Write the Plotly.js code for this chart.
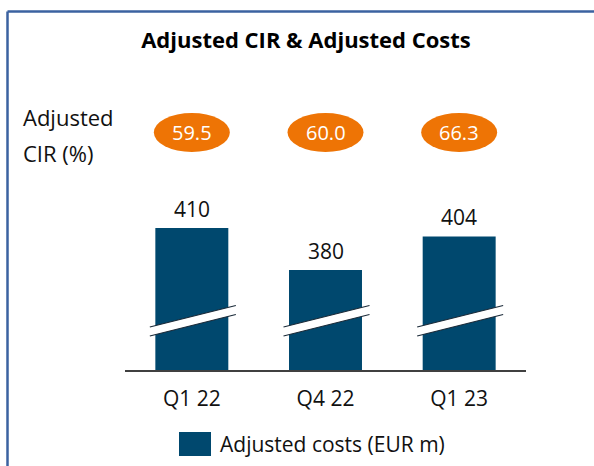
<!DOCTYPE html>
<html>
<head>
<meta charset="utf-8">
<script src="https://cdn.plot.ly/plotly-3.0.1.min.js"></script>
<style>html,body{margin:0;padding:0;background:#fff;}#chart{width:594px;height:466px;}</style>
</head>
<body>
<div id="chart"></div>
<script>
// ---- data ----
var quarters = ["Q1 22", "Q4 22", "Q1 23"];
var adjustedCosts = [410, 380, 404];
var adjustedCIR = [59.5, 60.0, 66.3];
var seriesName = "Adjusted costs (EUR m)";
var chartTitle = "Adjusted CIR & Adjusted Costs";
var cirLabelLines = ["Adjusted", "CIR (%)"];

// ---- layout helpers (pixel geometry) ----
var W = 594, H = 466;
var mL = 125, mR = 68, mT = 200, mB = 96;
var plotW = W - mL - mR, plotH = H - mT - mB;
function px(xp) { return (xp - mL) / plotW; }          // pixel x -> paper x
function py(yp) { return (H - mB - yp) / plotH; }      // pixel y -> paper y
var n = quarters.length;
function catCenter(i) { return (i + 0.5) / n; }        // category centre in paper x

var barColor = "#00486E";
var orange = "#EE7405";
var font = "'Open Sans', 'Noto Sans', sans-serif";

var shapes = [];
var annotations = [];

// frame (left and top border)
shapes.push({type: "line", xref: "paper", yref: "paper", x0: px(7.5), x1: px(7.5), y0: py(11.5), y1: py(H + 2), line: {color: "#3b62a0", width: 2.5}});
shapes.push({type: "line", xref: "paper", yref: "paper", x0: px(7.5), x1: px(W + 2), y0: py(11.5), y1: py(11.5), line: {color: "#3b62a0", width: 2.5}});

// CIR bubbles + bar value labels + axis break marks
quarters.forEach(function (q, i) {
  var c = catCenter(i);
  shapes.push({type: "circle", xref: "paper", yref: "paper",
    x0: c - 38 / plotW, x1: c + 38 / plotW, y0: py(152), y1: py(113),
    fillcolor: orange, line: {width: 0}, layer: "above"});
  annotations.push({xref: "paper", yref: "paper", x: c, y: py(132.5), text: adjustedCIR[i].toFixed(1),
    showarrow: false, xanchor: "center", yanchor: "middle", font: {family: font, size: 20, color: "#ffffff"}});
  annotations.push({xref: "x", yref: "y", x: q, y: adjustedCosts[i], text: String(adjustedCosts[i]),
    showarrow: false, xanchor: "center", yanchor: "bottom", yshift: 3, font: {family: font, size: 21, color: "#111111"}});
  // break mark: white band with dark edges
  var xl = c - 42 / plotW, xr = c + 44 / plotW;
  var tl = py(327), tr = py(305.5), bl = py(336), br = py(314.5);
  shapes.push({type: "path", xref: "paper", yref: "paper",
    path: "M" + xl + "," + tl + " L" + xr + "," + tr + " L" + xr + "," + br + " L" + xl + "," + bl + " Z",
    fillcolor: "#ffffff", line: {width: 0}, layer: "above"});
  shapes.push({type: "line", xref: "paper", yref: "paper", x0: xl, y0: tl, x1: xr, y1: tr, line: {color: "#1a2a38", width: 1.2}, layer: "above"});
  shapes.push({type: "line", xref: "paper", yref: "paper", x0: xl, y0: bl, x1: xr, y1: br, line: {color: "#1a2a38", width: 1.2}, layer: "above"});
});

// left CIR label (two lines, wider line spacing)
cirLabelLines.forEach(function (t, k) {
  annotations.push({xref: "paper", yref: "paper", x: px(21), y: py(117 + 36 * k), text: t, showarrow: false,
    xanchor: "left", yanchor: "middle", align: "left", font: {family: font, size: 22, color: "#111111"}});
});

// legend swatch (larger than Plotly's default symbol)
shapes.push({type: "rect", xref: "paper", yref: "paper", x0: px(179), x1: px(211), y0: py(456), y1: py(432),
  fillcolor: barColor, line: {width: 0}, layer: "above"});

var data = [{
  type: "bar",
  x: quarters,
  y: adjustedCosts,
  name: seriesName,
  marker: {color: barColor},
  hoverinfo: "skip",
  showlegend: true
}];

var layout = {
  width: W, height: H,
  margin: {l: mL, r: mR, t: mT, b: mB, pad: 0, autoexpand: false},
  paper_bgcolor: "#ffffff", plot_bgcolor: "#ffffff",
  font: {family: font, size: 21, color: "#111111"},
  title: {text: "<b>" + chartTitle + "</b>", x: 306 / W, xref: "container", xanchor: "center",
    y: 1 - 40 / H, yref: "container", yanchor: "middle", font: {family: font, size: 22, color: "#000000"}},
  bargap: 0.454,
  xaxis: {type: "category", showgrid: false, zeroline: false, showline: true, linecolor: "#404040", linewidth: 1.5,
    ticks: "", tickfont: {family: font, size: 21, color: "#111111"}, ticklabelstandoff: 9, fixedrange: true},
  yaxis: {range: [308.6, 430], visible: false, showgrid: false, zeroline: false, fixedrange: true},
  showlegend: true,
  legend: {orientation: "h", x: px(180), xanchor: "left", y: py(444), yanchor: "middle",
    bgcolor: "rgba(0,0,0,0)", font: {family: font, size: 21, color: "#111111"}, itemwidth: 30},
  shapes: shapes,
  annotations: annotations
};

Plotly.newPlot("chart", data, layout, {displayModeBar: false, staticPlot: true});
</script>
</body>
</html>
